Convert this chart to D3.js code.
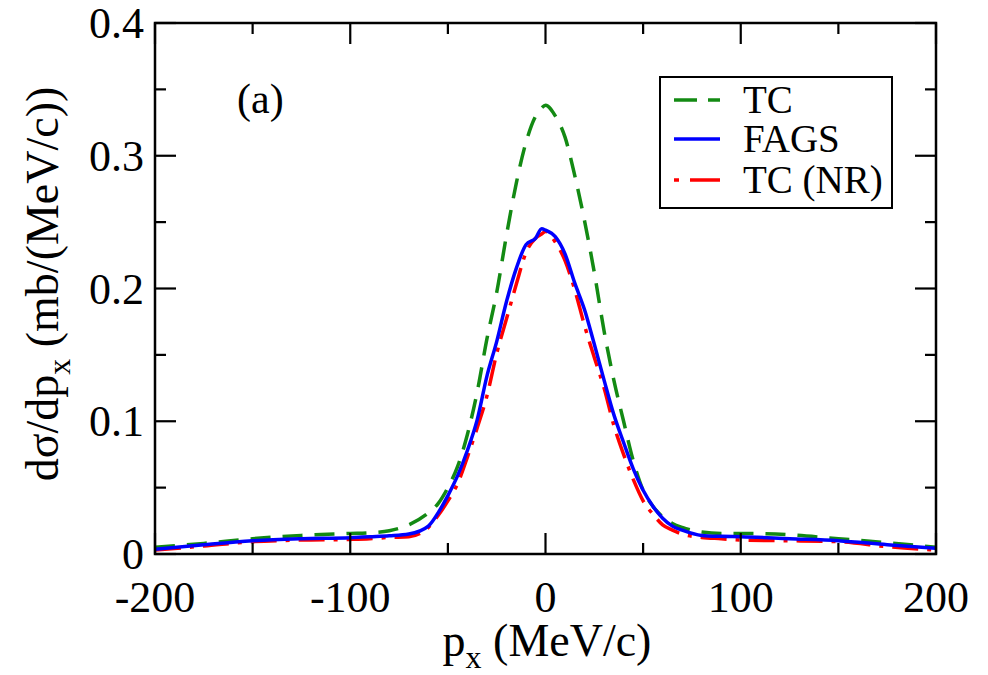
<!DOCTYPE html>
<html><head><meta charset="utf-8">
<script src="https://cdn.jsdelivr.net/npm/d3@7"></script>
<style>svg text, svg tspan{font-family:'Liberation Serif','Times New Roman',Tinos,'Nimbus Roman',FreeSerif,'DejaVu Serif' !important;}</style>
</head><body style="margin:0">
<script>
const px = [-200,-175,-150,-125,-100,-90,-80,-70,-60,-55,-50,-45,-40,-35,-30,-25,-20,-15,-10,-5,-2,0,5,10,15,20,25,30,35,40,45,50,55,60,65,70,80,90,100,125,150,175,200];
const tc   = [0.005,0.008,0.0115,0.014,0.0155,0.016,0.0175,0.022,0.031,0.038,0.050,0.066,0.090,0.122,0.162,0.197,0.240,0.279,0.310,0.330,0.336,0.338,0.330,0.314,0.285,0.251,0.212,0.168,0.131,0.100,0.070,0.048,0.036,0.028,0.023,0.020,0.0165,0.0155,0.0155,0.0145,0.0115,0.0085,0.005];
const fags = [0.0035,0.007,0.0100,0.0115,0.0123,0.013,0.0137,0.015,0.021,0.031,0.044,0.059,0.078,0.101,0.134,0.160,0.190,0.215,0.233,0.238,0.245,0.244,0.239,0.226,0.204,0.184,0.158,0.131,0.105,0.084,0.064,0.048,0.036,0.027,0.021,0.018,0.014,0.0133,0.013,0.0115,0.010,0.007,0.0043];
const tcnr = [0.003,0.006,0.0093,0.0105,0.011,0.0115,0.0125,0.013,0.020,0.029,0.040,0.053,0.073,0.095,0.119,0.151,0.177,0.203,0.227,0.238,0.241,0.243,0.235,0.221,0.199,0.172,0.148,0.125,0.097,0.075,0.056,0.040,0.030,0.022,0.018,0.015,0.0125,0.0115,0.0105,0.010,0.0093,0.0055,0.003];
const xTicks = [-200,-100,0,100,200];
const yTicks = [0,0.1,0.2,0.3,0.4];
const seriesNames = ["TC","FAGS","TC (NR)"];

const FONT="'Liberation Serif', 'Times New Roman', Tinos, 'Nimbus Roman', FreeSerif, 'DejaVu Serif'";
const W=988,H=675;
const m={l:155,r:936,t:23,b:554};
const svg=d3.select("body").append("svg").attr("width",W).attr("height",H).style("display","block")
  .style("font-family",FONT,"important");
const x=d3.scaleLinear().domain([-200,200]).range([m.l,m.r]);
const y=d3.scaleLinear().domain([0,0.4]).range([m.b,m.t]);
const T=(sel,fsz)=>sel.append("text").attr("font-size",fsz).attr("font-family",FONT).style("font-family",FONT,"important").attr("fill","#000");

svg.append("clipPath").attr("id","clip").append("rect").attr("x",m.l).attr("y",m.t).attr("width",m.r-m.l).attr("height",m.b-m.t);

const series=[
 {name:seriesNames[0],vals:tc,color:"#138a13",dash:"20,12"},
 {name:seriesNames[1],vals:fags,color:"#0000ff",dash:null},
 {name:seriesNames[2],vals:tcnr,color:"#ff0000",dash:"26,9,4,9"}
];
const line=d3.line().x(d=>x(d[0])).y(d=>y(d[1])).curve(d3.curveMonotoneX);
const g=svg.append("g").attr("clip-path","url(#clip)");
[series[0],series[2],series[1]].forEach(s=>{
  g.append("path").datum(px.map((v,i)=>[v,s.vals[i]]))
   .attr("d",line).attr("fill","none").attr("stroke",s.color).attr("stroke-width",3.5)
   .attr("stroke-dasharray",s.dash).attr("stroke-linejoin","round");
});

const tk=svg.append("g").attr("stroke","#000").attr("stroke-width",2.2);
d3.range(-200,201,50).forEach(v=>{
  const L=(v%100===0)?21:11;
  tk.append("line").attr("x1",x(v)).attr("x2",x(v)).attr("y1",m.b).attr("y2",m.b-L);
  tk.append("line").attr("x1",x(v)).attr("x2",x(v)).attr("y1",m.t).attr("y2",m.t+L);
});
d3.range(0,0.401,0.05).forEach(v=>{
  const major=Math.abs(v*10-Math.round(v*10))<1e-6;
  const L=major?21:11;
  tk.append("line").attr("y1",y(v)).attr("y2",y(v)).attr("x1",m.l).attr("x2",m.l+L);
  tk.append("line").attr("y1",y(v)).attr("y2",y(v)).attr("x1",m.r).attr("x2",m.r-L);
});
svg.append("rect").attr("x",m.l).attr("y",m.t).attr("width",m.r-m.l).attr("height",m.b-m.t)
  .attr("fill","none").attr("stroke","#000").attr("stroke-width",2.5);

const fs=44;
xTicks.forEach(v=>T(svg,fs).attr("x",x(v)).attr("y",612).attr("text-anchor","middle").text(v));
yTicks.forEach(v=>T(svg,fs).attr("x",144).attr("y",y(v)+15).attr("text-anchor","end")
  .text(v===0?"0":d3.format(".1f")(v)));

const xt=T(svg,46).attr("x",547).attr("y",656).attr("text-anchor","middle");
xt.append("tspan").text("p");
xt.append("tspan").attr("font-size",32).attr("dy",12).text("x");
xt.append("tspan").attr("dy",-12).text(" (MeV/c)");

const yt=T(svg,46).attr("transform","translate(58,284) rotate(-90)").attr("text-anchor","middle");
yt.append("tspan").text("dσ/dp");
yt.append("tspan").attr("font-size",32).attr("dy",12).text("x");
yt.append("tspan").attr("dy",-12).text(" (mb/(MeV/c))");

T(svg,42).attr("x",237).attr("y",113).text("(a)");

const lg=svg.append("g");
lg.append("rect").attr("x",660).attr("y",77).attr("width",232).attr("height",131)
  .attr("fill","#fff").attr("stroke","#000").attr("stroke-width",2);
const ly=[100,139,180];
series.forEach((s,i)=>{
  lg.append("line").attr("x1",674).attr("x2",720).attr("y1",ly[i]).attr("y2",ly[i])
    .attr("stroke",s.color).attr("stroke-width",3.5)
    .attr("stroke-dasharray",i===0?"23,11":(i===2?"5,11,30,0":null));
  T(lg,39).attr("x",743).attr("y",ly[i]+13).text(s.name);
});
</script>
</body></html>
